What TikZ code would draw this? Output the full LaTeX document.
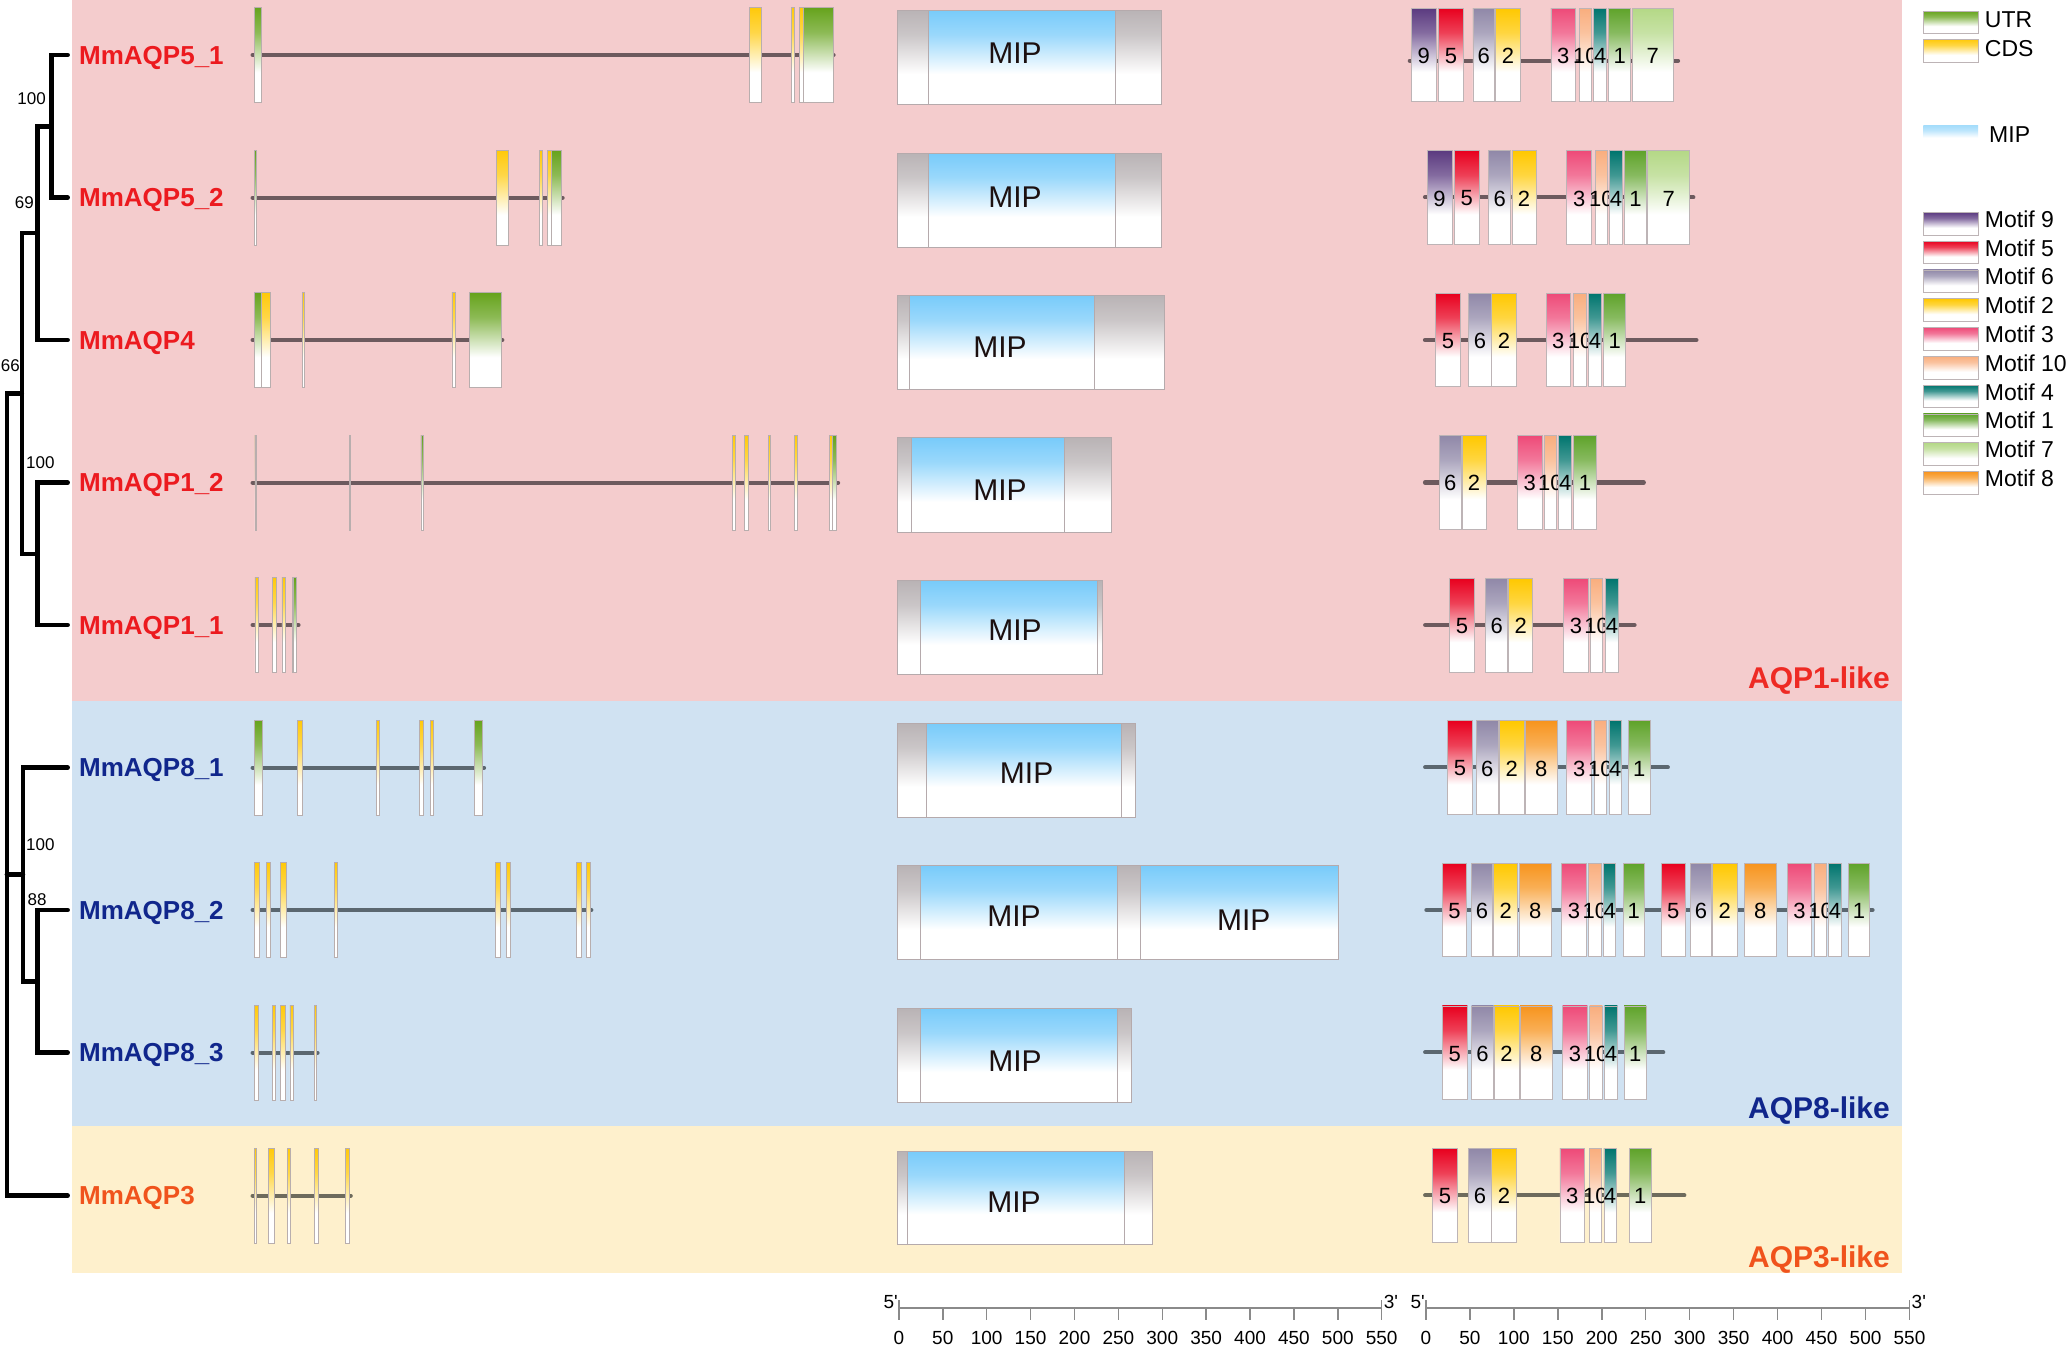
\documentclass[tikz,border=0pt]{standalone}
\usepackage{fontspec}
\setmainfont{Liberation Sans}
\definecolor{bgpink}{HTML}{F4CCCD}
\definecolor{bgblue}{HTML}{D0E2F2}
\definecolor{bgyel}{HTML}{FEF0CC}
\definecolor{redlab}{HTML}{EC1A1F}
\definecolor{bluelab}{HTML}{10268C}
\definecolor{orlab}{HTML}{F0531C}
\definecolor{grpred}{HTML}{EE2A24}
\definecolor{utr}{HTML}{66A31C}
\definecolor{cds}{HTML}{FFC90A}
\definecolor{exedge}{HTML}{B8AEAE}
\definecolor{moedge}{HTML}{BDB4B6}
\definecolor{mipblue}{HTML}{78CBFA}
\definecolor{mipgrey}{HTML}{B9B3B5}
\definecolor{miplight}{HTML}{A6DDFB}
\definecolor{mipedge}{HTML}{B5AAAC}
\definecolor{miptext}{HTML}{1C1010}
\definecolor{lpink}{HTML}{6D5A5E}
\definecolor{lblue}{HTML}{5B6770}
\definecolor{lyel}{HTML}{6E6B5C}
\definecolor{sbcol}{HTML}{8A8A8A}
\definecolor{m9}{HTML}{5B3A80}
\definecolor{m5}{HTML}{E8001E}
\definecolor{m6}{HTML}{9088A8}
\definecolor{m2}{HTML}{FFC800}
\definecolor{m3}{HTML}{EE4A78}
\definecolor{m10}{HTML}{F9AE7E}
\definecolor{m4}{HTML}{00756E}
\definecolor{m1}{HTML}{5FA32A}
\definecolor{m7}{HTML}{B4D886}
\definecolor{m8}{HTML}{F7941D}
\colorlet{fadetop}{white}
\pgfdeclareverticalshading[fadetop]{fadebox}{100bp}{color(0bp)=(white); color(25bp)=(white); color(41bp)=(white); color(62bp)=(fadetop!75!white); color(75bp)=(fadetop); color(100bp)=(fadetop)}
\tikzset{
 tree/.style={line width=4.5pt, black, line cap=round, line join=miter},
 glab/.style={anchor=base west, inner sep=0pt, font=\fontsize{26}{26}\selectfont\bfseries},
 boot/.style={inner sep=0pt, font=\fontsize{17}{17}\selectfont},
 fshade/.style={/utils/exec={\colorlet{fadetop}{#1}}, shade, shading=fadebox},
 exbox/.style={fshade=#1, draw=exedge, line width=0.6pt},
 mobox/.style={fshade=#1, draw=moedge, line width=0.8pt},
 gline/.style={line width=4.2pt, line cap=round, draw=#1},
 miptxt/.style={font=\fontsize{30}{30}\selectfont, text=miptext, inner sep=0pt},
 mlab/.style={font=\fontsize{22}{22}\selectfont, inner sep=0pt},
 leg/.style={anchor=west, inner sep=0pt, font=\fontsize{23}{23}\selectfont},
 grp/.style={anchor=base east, inner sep=0pt, font=\fontsize{30}{30}\selectfont\bfseries},
 sbarline/.style={draw=sbcol, line width=2pt},
 stick/.style={draw=sbcol, line width=1.5pt},
 snum/.style={font=\fontsize{19}{19}\selectfont, inner sep=0pt},
}
\newcommand\ex[4]{\path[exbox=#4] (#2,#1-47.5) rectangle (#3,#1+47.5);}
\newcommand\mo[5]{\path[mobox=#3] (#1,#5-46.8) rectangle (#2,#5+46.8);
  \node[mlab] at ({(#1+#2)/2},#5+1) {#4};}
\newcommand\mipbox[5]{% y1 y2 xend bx1 bx2
  \path[fshade=mipgrey, draw=mipedge, line width=1pt] (897.2,#1) rectangle (#3,#2);
  \path[fshade=mipblue, draw=mipedge, line width=0.8pt] (#4,#1) rectangle (#5,#2);}
\newcommand\scalebar[3]{% x0 x1 name
  \draw[sbarline] (#1,1307.5) -- (#2,1307.5);
  \foreach \k in {0,...,11}{
    \pgfmathsetmacro\tx{#1+(#2-#1)*\k/11}
    \pgfmathtruncatemacro\lab{50*\k}
    \draw[stick] (\tx,1307.5) -- (\tx,1320);
    \node[snum] (#3n\k) at (\tx,1338) {\lab};}
  \draw[stick] (#1,1300) -- (#1,1320);
  \draw[stick] (#2,1300) -- (#2,1320);
  \node[snum, anchor=east] (#3a) at (#1-1,1302) {5\textquotesingle};
  \node[snum, anchor=west] (#3b) at (#2+2,1302) {3\textquotesingle};}
\begin{document}
\begin{tikzpicture}[x=1pt,y=-1pt]
\useasboundingbox (0,0) rectangle (2067,1347);
\fill[white] (0,0) rectangle (2067,1347);
\fill[bgpink] (72.3,0) rectangle (1901.6,700.7);
\fill[bgblue] (72.3,700.7) rectangle (1901.6,1126);
\fill[bgyel] (72.3,1126) rectangle (1901.6,1272.7);

% ---------- tree ----------
\coordinate (L1) at (67.7,55);
\coordinate (L2) at (67.7,197.7);
\coordinate (L3) at (67.7,340);
\coordinate (L4) at (67.7,482.7);
\coordinate (L5) at (67.7,625);
\coordinate (L6) at (67.7,767.7);
\coordinate (L7) at (67.7,910);
\coordinate (L8) at (67.7,1052.7);
\coordinate (L9) at (67.7,1195.7);
\coordinate (n1) at (51.7,126.4);
\coordinate (n2) at (37.3,233.2);
\coordinate (n3) at (37.3,553.9);
\coordinate (n4) at (21.8,393.5);
\coordinate (n5) at (37.3,981.4);
\coordinate (n6) at (23,874.5);
\coordinate (root) at (6.9,874.5);
\draw[tree] (L1) -| (n1) |- (L2);
\draw[tree] (n1) -| (n2) |- (L3);
\draw[tree] (L4) -| (n3) |- (L5);
\draw[tree] (n2) -| (n4) |- (n3);
\draw[tree] (n4) -| (root) |- (L9);
\draw[tree] (root) -- (n6);
\draw[tree] (L6) -| (n6) |- (n5);
\draw[tree] (L7) -| (n5) |- (L8);

\node[boot, anchor=base east] (b1) at (46,104) {100};
\node[boot, anchor=base east] (b2) at (34,208) {69};
\node[boot, anchor=base east] (b3) at (20,371) {66};
\node[boot, anchor=base west] (b4) at (26,468) {100};
\node[boot, anchor=base west] (b5) at (26,850) {100};
\node[boot, anchor=base west] (b6) at (27.5,905) {88};

\node[glab, text=redlab] (g1) at (79,64) {MmAQP5\_1};
\node[glab, text=redlab] (g2) at (79,206.7) {MmAQP5\_2};
\node[glab, text=redlab] (g3) at (79,349) {MmAQP4};
\node[glab, text=redlab] (g4) at (79,491.7) {MmAQP1\_2};
\node[glab, text=redlab] (g5) at (79,634) {MmAQP1\_1};
\node[glab, text=bluelab] (g6) at (79,776.7) {MmAQP8\_1};
\node[glab, text=bluelab] (g7) at (79,919) {MmAQP8\_2};
\node[glab, text=bluelab] (g8) at (79,1061.7) {MmAQP8\_3};
\node[glab, text=orlab] (g9) at (79,1204.7) {MmAQP3};

% ---------- gene structures ----------
\draw[gline=lpink] (252.6,55) -- (833.5,55);
\ex{55}{254.3}{261.2}{utr}\ex{55}{749}{761}{cds}\ex{55}{791}{794}{cds}\ex{55}{799.7}{803.7}{cds}\ex{55}{803.7}{833.5}{utr}

\draw[gline=lpink] (252.6,197.7) -- (562.6,197.7);
\ex{197.7}{254.3}{256.6}{utr}\ex{197.7}{496}{508}{cds}\ex{197.7}{539.6}{541.9}{cds}\ex{197.7}{547}{551}{cds}\ex{197.7}{551}{561.4}{utr}

\draw[gline=lpink] (252.6,340) -- (502.3,340);
\ex{340}{254.3}{261.2}{utr}\ex{340}{261.2}{270.4}{cds}\ex{340}{302}{304}{cds}\ex{340}{451.8}{455.2}{cds}\ex{340}{469.6}{501.1}{utr}

\draw[gline=lpink] (252.6,482.7) -- (838.1,482.7);
\ex{482.7}{254.9}{256.6}{utr}\ex{482.7}{349}{350.7}{utr}\ex{482.7}{420.8}{423.7}{utr}\ex{482.7}{732}{735.4}{cds}\ex{482.7}{744.5}{748.6}{cds}\ex{482.7}{768.7}{770.4}{cds}\ex{482.7}{794.5}{796.8}{cds}\ex{482.7}{829.5}{832.4}{cds}\ex{482.7}{832.4}{835.8}{utr}

\draw[gline=lpink] (252.6,625) -- (298.5,625);
\ex{625}{254.9}{257.8}{cds}\ex{625}{272.7}{276.1}{cds}\ex{625}{281.9}{285.3}{cds}\ex{625}{292.2}{293.5}{cds}\ex{625}{293.5}{296.2}{utr}

\draw[gline=lblue] (252.6,767.7) -- (484,767.7);
\ex{767.7}{254.3}{261.8}{utr}\ex{767.7}{297.4}{302}{cds}\ex{767.7}{376.6}{378.9}{cds}\ex{767.7}{419}{423.7}{cds}\ex{767.7}{430}{433.4}{cds}\ex{767.7}{474.2}{482.2}{utr}

\draw[gline=lblue] (252.6,910) -- (591.3,910);
\foreach \a/\b in {254.3/258.9,266.4/269.8,280.7/285.9,334.1/337,495.4/500,506.3/510.3,576.3/581.5,586.7/590.1}{\ex{910}{\a}{\b}{cds}}

\draw[gline=lblue] (252.6,1052.7) -- (317.5,1052.7);
\foreach \a/\b in {254.3/258.3,272.1/275.5,280.1/285.3,289.9/293.3,314/316.3}{\ex{1052.7}{\a}{\b}{cds}}

\draw[gline=lyel] (252.6,1195.7) -- (350.7,1195.7);
\foreach \a/\b in {254.3/256.6,268.7/273.8,287/289.9,314/318.6,345/349}{\ex{1195.7}{\a}{\b}{cds}}

% ---------- MIP domains ----------
\mipbox{10}{104.3}{1161}{928}{1115}
\node[miptxt] (p1) at (1015,52.7) {MIP};
\mipbox{153}{247}{1161}{928}{1115}
\node[miptxt] (p2) at (1015,197) {MIP};
\mipbox{295.3}{389}{1164.2}{909.5}{1094.3}
\node[miptxt] (p3) at (1000,346.7) {MIP};
\mipbox{437.7}{532}{1111.8}{911.5}{1064.7}
\node[miptxt] (p4) at (1000,490) {MIP};
\mipbox{580.7}{674.7}{1102.2}{920}{1097}
\node[miptxt] (p5) at (1015,630) {MIP};
\mipbox{723}{817}{1135}{926.4}{1121.8}
\node[miptxt] (p6) at (1026.6,772.7) {MIP};
\mipbox{865.3}{959.7}{1338.4}{920.5}{1117.5}
\path[fshade=mipblue, draw=mipedge, line width=0.8pt] (1140,865.3) rectangle (1338.4,959.7);
\node[miptxt] (p7) at (1014,916) {MIP};
\node[miptxt] (p7b) at (1243.8,920) {MIP};
\mipbox{1008.3}{1102.3}{1131}{920.5}{1117.5}
\node[miptxt] (p8) at (1015,1060.7) {MIP};
\mipbox{1151}{1244.3}{1152}{907.5}{1124.5}
\node[miptxt] (p9) at (1014,1201.7) {MIP};

% ---------- motifs ----------
\draw[gline=lpink] (1409.8,60.7) -- (1678,60.7);
\foreach \a/\b/\c/\t in {1411.5/1436.1/m9/9, 1438.7/1463.3/m5/5, 1472.9/1494.8/m6/6, 1495.7/1520.2/m2/2, 1550.9/1575.4/m3/3, 1579/1591.7/m10/10, 1593.8/1606.6/m4/4, 1608.7/1630.7/m1/1, 1632/1673.6/m7/7}{\mo{\a}{\b}{\c}{\t}{55}}

\draw[gline=lpink] (1425,197.3) -- (1693.3,197.3);
\foreach \a/\b/\c/\t in {1427.3/1451.9/m9/9, 1454.5/1479/m5/5, 1488.7/1510.6/m6/6, 1511.9/1536/m2/2, 1566.7/1591.7/m3/3, 1595.2/1607.4/m10/10, 1609.6/1622.3/m4/4, 1624.5/1646.4/m1/1, 1647.7/1689.8/m7/7}{\mo{\a}{\b}{\c}{\t}{197.5}}

\draw[gline=lpink] (1425,340) -- (1696.4,340);
\foreach \a/\b/\c/\t in {1435.7/1460.2/m5/5, 1468.5/1491.3/m6/6, 1491.7/1516.3/m2/2, 1546/1570.2/m3/3, 1573.7/1586.4/m10/10, 1588.6/1601.3/m4/4, 1603.5/1625.8/m1/1}{\mo{\a}{\b}{\c}{\t}{340}}

\draw[gline=lpink] (1425,482.5) -- (1643.8,482.5);
\foreach \a/\b/\c/\t in {1439.2/1461.1/m6/6, 1462/1486/m2/2, 1517.2/1542.1/m3/3, 1544.3/1556.6/m10/10, 1558.8/1571.5/m4/4, 1573.7/1596/m1/1}{\mo{\a}{\b}{\c}{\t}{482.3}}

\draw[gline=lpink] (1425.2,625) -- (1634.5,625);
\foreach \a/\b/\c/\t in {1449.7/1474.1/m5/5, 1485.6/1507.8/m6/6, 1508.6/1532.7/m2/2, 1563.3/1588.6/m3/3, 1590.5/1602.7/m10/10, 1605.8/1618/m4/4}{\mo{\a}{\b}{\c}{\t}{625.3}}

\draw[gline=lblue] (1425.2,767.3) -- (1667.8,767.3);
\foreach \a/\b/\c/\t in {1447.7/1472.2/m5/5, 1476.4/1498.3/m6/6, 1499.8/1523.9/m2/2, 1525/1557.6/m8/8, 1566.8/1591.6/m3/3, 1593.9/1606.6/m10/10, 1608.9/1621.5/m4/4, 1628/1650.6/m1/1}{\mo{\a}{\b}{\c}{\t}{767.5}}

\draw[gline=lblue] (1426.4,910) -- (1872.5,910);
\foreach \a/\b/\c/\t in {1442.4/1466.6/m5/5, 1471.2/1492.8/m6/6, 1493.8/1517.6/m2/2, 1519.3/1551.1/m8/8, 1561.8/1586/m3/3, 1588.6/1600.9/m10/10, 1603.5/1615.8/m4/4, 1623.1/1644.3/m1/1, 1661.3/1685.1/m5/5, 1690.1/1711.7/m6/6, 1712.7/1736.9/m2/2, 1744.2/1776.3/m8/8, 1787.3/1811.5/m3/3, 1814.2/1826.8/m10/10, 1828.8/1841/m4/4, 1848.3/1869.5/m1/1}{\mo{\a}{\b}{\c}{\t}{910}}

\draw[gline=lblue] (1425.2,1052.3) -- (1663.2,1052.3);
\foreach \a/\b/\c/\t in {1442.4/1467.3/m5/5, 1471.5/1493.7/m6/6, 1494/1518.9/m2/2, 1520/1552.2/m8/8, 1562.5/1587.4/m3/3, 1589.7/1602.3/m10/10, 1604.6/1617.3/m4/4, 1624.2/1646/m1/1}{\mo{\a}{\b}{\c}{\t}{1052.7}}

\draw[gline=lyel] (1425.2,1195.3) -- (1684.3,1195.3);
\foreach \a/\b/\c/\t in {1432.8/1457.3/m5/5, 1468.8/1491/m6/6, 1491.7/1516.2/m2/2, 1559.9/1584.7/m3/3, 1589/1601.6/m10/10, 1603.9/1616.1/m4/4, 1629.5/1651/m1/1}{\mo{\a}{\b}{\c}{\t}{1195.3}}

% ---------- group labels ----------
\node[grp, text=grpred] (c1) at (1890,688) {AQP1-like};
\node[grp, text=bluelab] (c2) at (1890,1118) {AQP8-like};
\node[grp, text=orlab] (c3) at (1890,1267) {AQP3-like};

% ---------- legend ----------
\path[mobox=utr] (1923.4,11) rectangle (1978.2,33.3);
\node[leg] (lu) at (1984.7,20) {UTR};
\path[mobox=cds] (1923.4,39.3) rectangle (1978.2,62.3);
\node[leg] (lc) at (1984.7,48.3) {CDS};
\path[fshade=miplight] (1923.4,125.7) rectangle (1978.2,143.3);
\node[leg] (lm) at (1989,135) {MIP};
\foreach \c/\t [count=\i from 0] in {m9/Motif 9, m5/Motif 5, m6/Motif 6, m2/Motif 2, m3/Motif 3, m10/Motif 10, m4/Motif 4, m1/Motif 1, m7/Motif 7, m8/Motif 8}{
  \path[mobox=\c] (1923.4,212.3+28.8*\i) rectangle (1978.2,235+28.8*\i);
  \node[leg] (lg\i) at (1984.7,219+28.8*\i) {\t};}

% ---------- scale bars ----------
\scalebar{898.9}{1381.7}{sa}
\scalebar{1425.9}{1909.5}{sb}
\end{tikzpicture}
\end{document}
